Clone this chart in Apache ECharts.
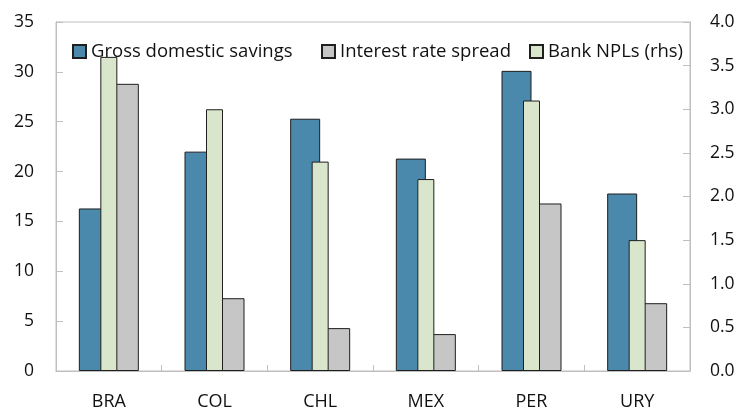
<!DOCTYPE html>
<html>
<head>
<meta charset="utf-8">
<script src="https://cdn.jsdelivr.net/npm/echarts@6/dist/echarts.min.js"></script>
<style>
  html, body { margin: 0; padding: 0; background: #fff; }
  #chart { width: 738px; height: 411px; }
</style>
</head>
<body>
<div id="chart"></div>
<script>
// 数据：从参考图读出（左轴：储蓄与利差；右轴：NPL）
const countries = ["BRA", "COL", "CHL", "MEX", "PER", "URY"];
const savings = [16.3, 22.0, 25.3, 21.3, 30.1, 17.8];
const spread = [28.8, 7.3, 4.3, 3.7, 16.8, 6.8];
const npls = [3.6, 3.0, 2.4, 2.2, 3.1, 1.5];

const FONT = "Open Sans";
const AXIS_GREY = "#bfbfbf";
const EDGE = "#1f1f1f";

const chart = echarts.init(document.getElementById("chart"));

const legendText = { fontFamily: FONT, fontSize: 18.5, color: "#111" };
const legendBase = (name, left) => ({
  data: [name],
  left,
  top: 42,
  icon: "rect",
  itemWidth: 13,
  itemHeight: 13,
  itemGap: 5,
  textStyle: legendText,
  padding: 0,
});

chart.setOption({
  animation: false,
  textStyle: { fontFamily: FONT },
  grid: { left: 56, right: 48, top: 22, bottom: 39, show: true, borderColor: AXIS_GREY, borderWidth: 1 },
  legend: [
    legendBase("Gross domestic savings", 72),
    legendBase("Interest rate spread", 321),
    legendBase("Bank NPLs (rhs)", 529),
  ],
  xAxis: [
    {
      type: "category",
      data: countries,
      axisLine: { lineStyle: { color: AXIS_GREY, width: 1 } },
      axisTick: { show: true, inside: true, length: 6, lineStyle: { color: AXIS_GREY } },
      axisLabel: { fontFamily: FONT, fontSize: 18, color: "#111", margin: 22 },
    },
    // 右轴序列叠在两根主柱中间，用一条隐藏的类目轴单独排布
    { type: "category", data: countries, show: false },
  ],
  yAxis: [
    {
      type: "value",
      min: 0,
      max: 35,
      interval: 5,
      axisLine: { show: true, lineStyle: { color: AXIS_GREY } },
      axisTick: { show: true, inside: true, length: 7, lineStyle: { color: AXIS_GREY } },
      splitLine: { show: false },
      axisLabel: { fontFamily: FONT, fontSize: 17.5, color: "#111", margin: 22 },
    },
    {
      type: "value",
      position: "right",
      min: 0,
      max: 4,
      interval: 0.5,
      axisLine: { show: true, lineStyle: { color: AXIS_GREY } },
      axisTick: { show: true, inside: true, length: 7, lineStyle: { color: AXIS_GREY } },
      splitLine: { show: false },
      axisLabel: {
        fontFamily: FONT, fontSize: 17.5, color: "#111", margin: 20,
        formatter: (v) => v.toFixed(1),
      },
    },
  ],
  series: [
    {
      name: "Gross domestic savings",
      type: "bar",
      xAxisIndex: 0,
      yAxisIndex: 0,
      barWidth: 30,
      barGap: "0%",
      data: savings,
      itemStyle: { color: "#4a89ab", borderColor: EDGE, borderWidth: 1 },
    },
    {
      name: "Interest rate spread",
      type: "bar",
      xAxisIndex: 0,
      yAxisIndex: 0,
      barWidth: 30,
      barGap: "0%",
      data: spread,
      itemStyle: { color: "#c6c6c6", borderColor: EDGE, borderWidth: 1 },
    },
    {
      name: "Bank NPLs (rhs)",
      type: "bar",
      xAxisIndex: 1,
      yAxisIndex: 1,
      barWidth: 17,
      z: 5,
      data: npls,
      itemStyle: { color: "#d9e6cc", borderColor: EDGE, borderWidth: 1 },
    },
  ],
});
</script>
</body>
</html>
